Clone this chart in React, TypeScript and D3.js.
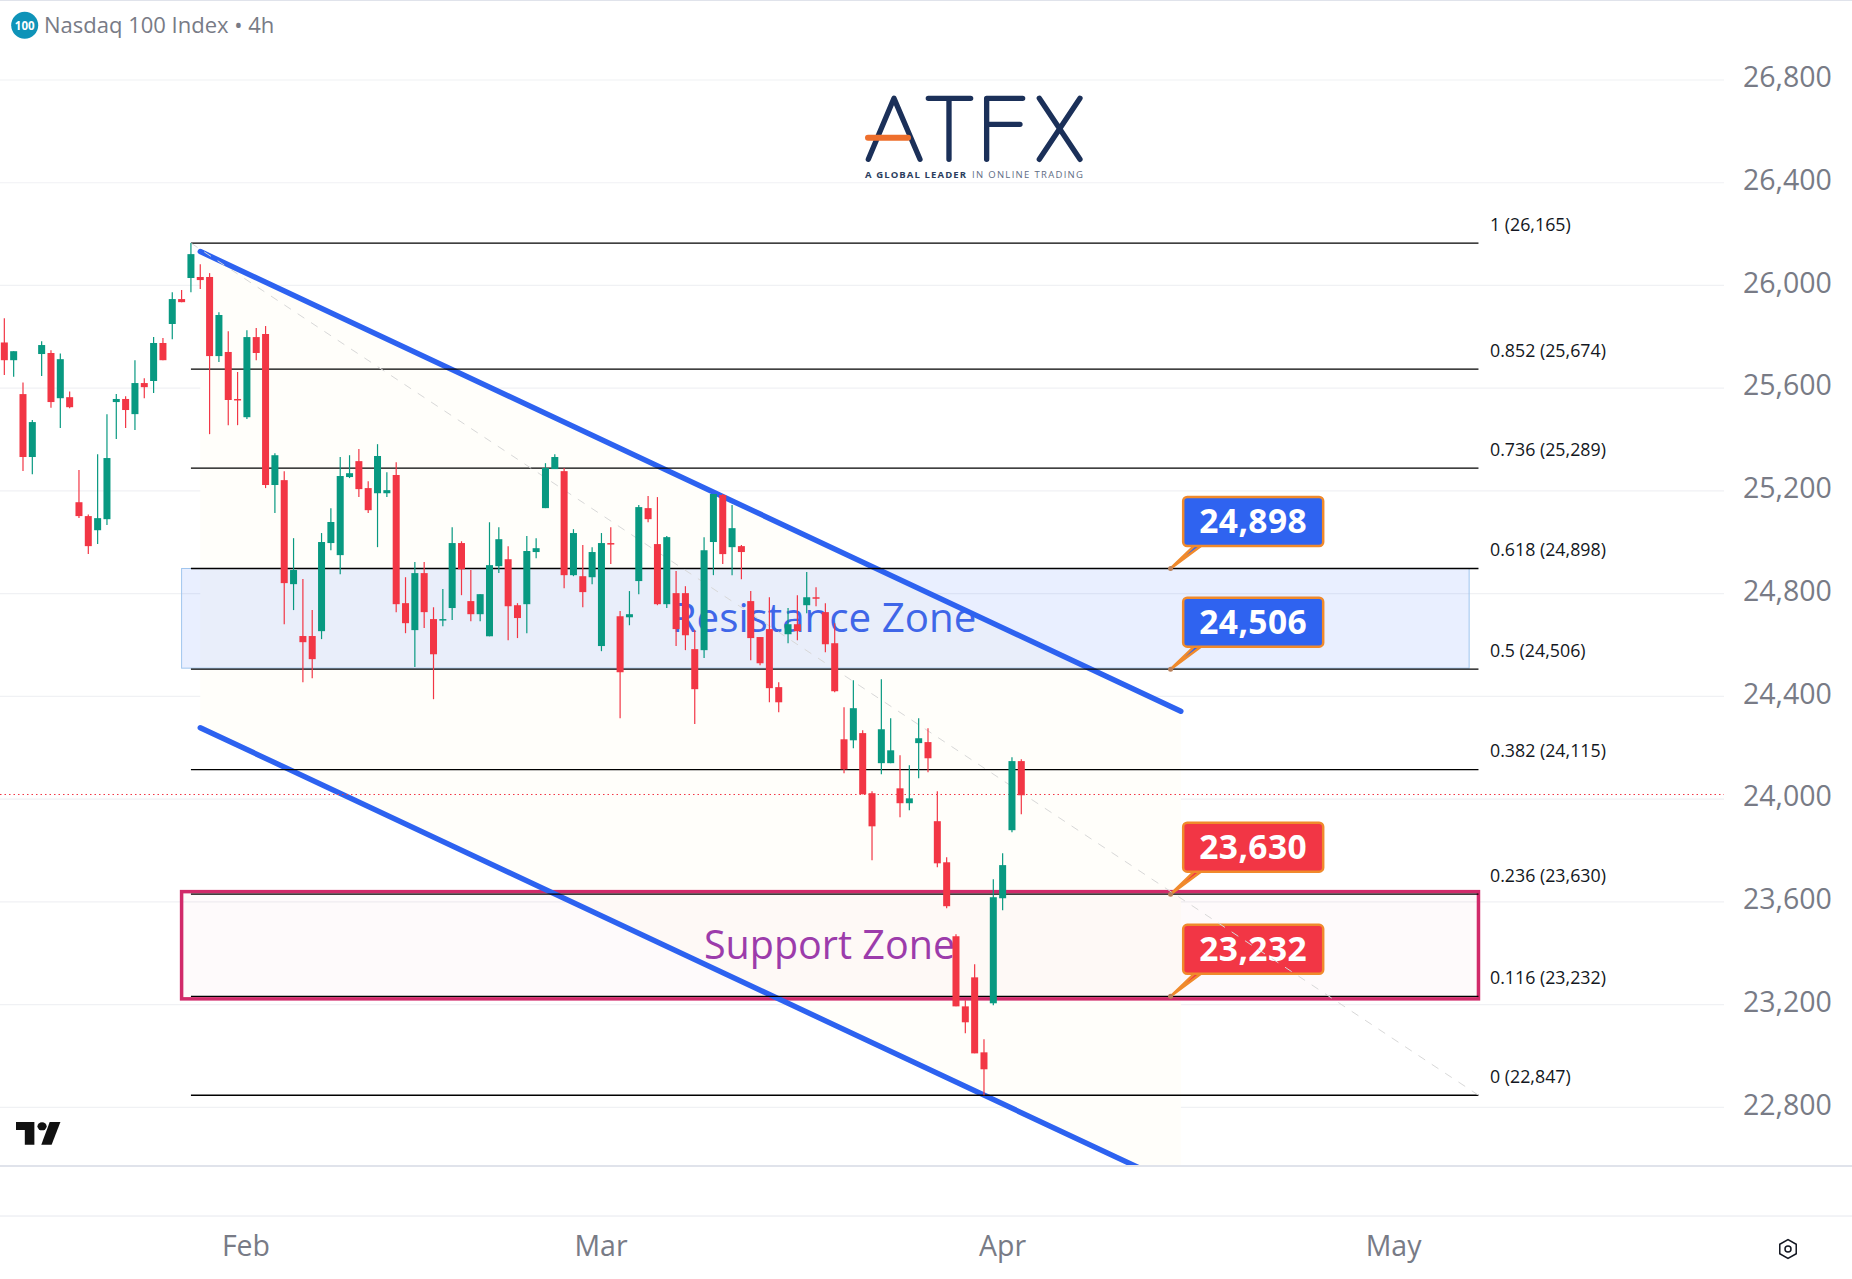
import React, { useRef, useEffect } from 'react';
import * as d3 from 'd3';

// 4h candles, left to right
const opens = [25778,25709,25577,25332,25733,25737,25561,25565,25156,25102,25047,25090,25546,25558,25499,25620,25628,25776,25850,25947,26029,26033,26033,25725,25741,25558,25487,25799,25811,25223,25242,24837,24635,24635,24654,24997,24950,25254,25316,25211,25191,25191,25262,24763,24658,24880,24701,24697,24744,24997,24771,24720,24634,24907,24934,24755,24759,24962,25133,25285,25277,24872,24868,24864,24596,24997,24712,24708,24849,25133,24993,24759,24802,24802,24584,24580,25001,25184,24981,24985,24771,24631,24662,24436,24642,24681,24755,24786,24728,24607,24233,24229,24257,24023,24140,24140,24042,23984,24218,24222,23914,23754,23466,23193,23306,23014,23205,23614,23879,24148];
const highs = [25872,25744,25622,25476,25783,25748,25735,25587,25281,25108,25343,25499,25577,25569,25709,25639,25799,25795,25974,25982,26165,26083,26048,25896,25822,25663,25826,25834,25842,25347,25277,25016,24857,24736,25036,25133,25332,25339,25363,25238,25382,25273,25312,24864,24923,24923,24747,24818,25059,25004,24892,24798,25078,25059,24985,24763,25024,25016,25308,25343,25289,25051,24989,24981,25036,25059,24732,24810,25145,25180,25176,25024,24888,24829,24658,25020,25188,25188,25145,24989,24810,24631,24786,24455,24744,24794,24884,24825,24763,24685,24358,24463,24268,24031,24467,24315,24171,24132,24315,24276,24031,23774,23474,23217,23357,23065,23688,23789,24163,24155];
const lows = [25651,25645,25278,25265,25647,25524,25445,25522,25095,24954,24993,25067,25402,25445,25437,25561,25581,25709,25791,25935,25974,25986,25421,25702,25456,25456,25480,25709,25211,25114,24681,24736,24455,24471,24623,24969,24876,25250,25176,25114,24981,25176,24728,24646,24514,24666,24389,24673,24697,24794,24693,24693,24634,24880,24619,24627,24646,24938,25133,25285,24821,24868,24747,24837,24576,24915,24315,24677,24798,25078,24755,24744,24596,24580,24292,24549,24872,24915,24872,24856,24541,24521,24377,24338,24607,24619,24724,24751,24572,24416,24101,24198,24019,23762,24097,24140,23929,23957,24081,24105,23735,23575,23193,23088,23010,22847,23197,23567,23871,23941];
const closes = [25709,25744,25332,25468,25768,25546,25713,25526,25102,24985,25094,25328,25558,25515,25620,25604,25776,25709,25947,25935,26122,26021,25725,25885,25554,25554,25799,25737,25223,25339,24841,24892,24611,24545,25001,25079,25258,25269,25207,25125,25336,25203,24759,24685,24880,24728,24564,24701,24997,24895,24720,24798,24911,25012,24751,24705,24966,24977,25289,25332,24872,25036,24806,24962,24997,24993,24494,24720,25137,25090,24759,25020,24662,24638,24428,24969,25188,24954,25055,24962,24627,24529,24432,24377,24681,24654,24786,24782,24603,24420,24116,24354,24019,23894,24272,24190,23984,24003,24237,24159,23750,23583,23193,23131,23010,22948,23618,23743,24148,24015];

const priceTicks = [26800, 26400, 26000, 25600, 25200, 24800, 24400, 24000, 23600, 23200, 22800];
const monthLabels = ['Feb', 'Mar', 'Apr', 'May'];
const monthIndex = [25.9, 63.95, 107, 148.9];

const fibRatios = ['1', '0.852', '0.736', '0.618', '0.5', '0.382', '0.236', '0.116', '0'];
const fibPrices = [26165, 25674, 25289, 24898, 24506, 24115, 23630, 23232, 22847];

const calloutPrices = [24898, 24506, 23630, 23232];
const lastPrice = 24018;

const channelTop: [number, number][] = [[21, 26132], [126.1, 24342]];
const channelBottom: [number, number][] = [[21, 24278], [126.1, 22488]];

const UP = '#089981';
const DOWN = '#f23645';
const GREY = '#787b86';
const FONT = '"Open Sans", sans-serif';

const W = 1852;
const H = 1279;
const PANE_RIGHT = 1724;
const PANE_BOTTOM = 1165;

const App: React.FC = () => {
  const svgRef = useRef<SVGSVGElement>(null);

  useEffect(() => {
    if (!svgRef.current) return;
    document.body.style.margin = '0';
    const svg = d3.select(svgRef.current);
    svg.selectAll('*').remove();

    const x = d3.scaleLinear().domain([0, 109]).range([4.33, 1021.3]);
    const y = d3.scaleLinear().domain([22800, 26800]).range([1107.3, 80]);

    svg.append('rect').attr('width', W).attr('height', H).attr('fill', '#fff');

    svg.append('defs').append('clipPath').attr('id', 'pane')
      .append('rect').attr('width', PANE_RIGHT).attr('height', PANE_BOTTOM);

    // frame lines
    svg.append('line').attr('x1', 0).attr('x2', W).attr('y1', 0.5).attr('y2', 0.5).attr('stroke', '#e0e3eb');
    svg.append('line').attr('x1', 0).attr('x2', W).attr('y1', 1166).attr('y2', 1166).attr('stroke', '#e0e3eb').attr('stroke-width', 2);
    svg.append('line').attr('x1', 0).attr('x2', W).attr('y1', 1216).attr('y2', 1216).attr('stroke', '#e6e8ee').attr('stroke-width', 1);

    // grid + price axis
    svg.append('g').selectAll('line').data(priceTicks).enter().append('line')
      .attr('x1', 0).attr('x2', PANE_RIGHT)
      .attr('y1', d => y(d)).attr('y2', d => y(d))
      .attr('stroke', '#f0f1f4').attr('stroke-width', 1.2);

    svg.append('g').selectAll('text').data(priceTicks).enter().append('text')
      .attr('x', 1743).attr('y', d => y(d) + 7.3)
      .attr('font-family', FONT).attr('font-size', 28.5).attr('fill', GREY)
      .text(d => d3.format(',')(d));

    // time axis
    svg.append('g').selectAll('text').data(monthLabels).enter().append('text')
      .attr('x', (_, i) => x(monthIndex[i])).attr('y', 1255.5)
      .attr('text-anchor', 'middle')
      .attr('font-family', FONT).attr('font-size', 28.5).attr('fill', GREY)
      .text(d => d);

    const pane = svg.append('g').attr('clip-path', 'url(#pane)');

    // channel fill
    pane.append('polygon')
      .attr('points', [...channelTop, ...channelBottom.slice().reverse()]
        .map(p => `${x(p[0])},${y(p[1])}`).join(' '))
      .attr('fill', '#fffefa');

    // resistance zone
    pane.append('rect')
      .attr('x', x(19)).attr('width', x(157) - x(19))
      .attr('y', y(24898)).attr('height', y(24506) - y(24898) - 1)
      .attr('fill', '#2962ff').attr('fill-opacity', 0.1)
      .attr('stroke', '#9fc5ee').attr('stroke-width', 1);

    // support zone
    pane.append('rect')
      .attr('x', x(19)).attr('width', x(158) - x(19))
      .attr('y', y(23630) - 2.5).attr('height', y(23232) - y(23630) + 5)
      .attr('fill', '#e91e63').attr('fill-opacity', 0.025)
      .attr('stroke', '#d12a6a').attr('stroke-width', 3.5);

    pane.append('text').attr('x', 824).attr('y', 632).attr('text-anchor', 'middle')
      .attr('font-family', FONT).attr('font-size', 40.3).attr('fill', '#3f66e8')
      .text('Resistance Zone');
    pane.append('text').attr('x', 829.5).attr('y', 959).attr('text-anchor', 'middle')
      .attr('font-family', FONT).attr('font-size', 39.5).attr('fill', '#9c3cab')
      .text('Support Zone');

    // fib levels
    svg.append('g').selectAll('line').data(fibPrices).enter().append('line')
      .attr('x1', x(20)).attr('x2', x(158))
      .attr('y1', d => y(d)).attr('y2', d => y(d))
      .attr('stroke', '#000').attr('stroke-width', 1.3);

    svg.append('g').selectAll('text').data(fibPrices).enter().append('text')
      .attr('x', 1490).attr('y', d => y(d) - 12.5)
      .attr('font-family', FONT).attr('font-size', 17.8).attr('fill', '#131722')
      .text((d, i) => `${fibRatios[i]} (${d3.format(',')(d)})`);

    // callouts
    calloutPrices.forEach(p => {
      const ax = x(125);
      const ay = y(p);
      const color = p > 24000 ? '#2f63f0' : '#f23645';
      const g = svg.append('g');
      g.append('path')
        .attr('d', `M${ax},${ay}L${ax + 24},${ay - 23}L${ax + 31},${ay - 23}Z`)
        .attr('fill', color).attr('stroke', '#f08a2c').attr('stroke-width', 2.5).attr('stroke-linejoin', 'round');
      g.append('circle').attr('cx', ax).attr('cy', ay).attr('r', 2.5).attr('fill', '#b9805a');
      g.append('rect')
        .attr('x', ax + 12.6).attr('y', ay - 71.5).attr('width', 140).attr('height', 49).attr('rx', 4)
        .attr('fill', color).attr('stroke', '#f08a2c').attr('stroke-width', 2.5);
      g.append('text')
        .attr('x', ax + 82.6).attr('y', ay - 35.5).attr('text-anchor', 'middle')
        .attr('font-family', FONT).attr('font-weight', 700).attr('font-size', 33.5).attr('letter-spacing', 0.4).attr('fill', '#fff')
        .text(d3.format(',')(p));
    });

    // fib trend line
    svg.append('line')
      .attr('x1', x(20)).attr('y1', y(26165)).attr('x2', x(158)).attr('y2', y(22847))
      .attr('stroke', '#d8d8d8').attr('stroke-width', 1).attr('stroke-dasharray', '8 8');

    // channel lines
    [channelTop, channelBottom].forEach(line => {
      pane.append('line')
        .attr('x1', x(line[0][0])).attr('y1', y(line[0][1]))
        .attr('x2', x(line[1][0])).attr('y2', y(line[1][1]))
        .attr('stroke', '#2d62f0').attr('stroke-width', 5.4).attr('stroke-linecap', 'round');
    });

    // last price line
    svg.append('line')
      .attr('x1', 0).attr('x2', PANE_RIGHT).attr('y1', y(lastPrice)).attr('y2', y(lastPrice))
      .attr('stroke', DOWN).attr('stroke-width', 1).attr('stroke-dasharray', '1.5 3');

    // candles
    const candles = svg.append('g').selectAll('g').data(d3.range(opens.length)).enter().append('g');
    const colorOf = (i: number) => (closes[i] >= opens[i] ? UP : DOWN);
    candles.append('line')
      .attr('x1', i => x(i)).attr('x2', i => x(i))
      .attr('y1', i => y(highs[i])).attr('y2', i => y(lows[i]))
      .attr('stroke', colorOf).attr('stroke-width', 1.2);
    candles.append('rect')
      .attr('x', i => x(i) - 3.5).attr('width', 7)
      .attr('y', i => y(Math.max(opens[i], closes[i])))
      .attr('height', i => Math.max(1.5, Math.abs(y(opens[i]) - y(closes[i]))))
      .attr('fill', colorOf);

    // symbol header
    svg.append('circle').attr('cx', 24.7).attr('cy', 25.3).attr('r', 13.5).attr('fill', '#0e93b8');
    svg.append('text').attr('x', 24.7).attr('y', 29.5).attr('text-anchor', 'middle')
      .attr('font-family', FONT).attr('font-weight', 700).attr('font-size', 11.5).attr('fill', '#fff').text('100');
    svg.append('text').attr('x', 44).attr('y', 33)
      .attr('font-family', FONT).attr('font-size', 22).attr('fill', GREY).text('Nasdaq 100 Index • 4h');

    // ATFX watermark
    const logo = svg.append('g').attr('transform', 'translate(840,70) scale(0.3333)')
      .attr('fill', 'none').attr('stroke', '#1b3059').attr('stroke-width', 16)
      .attr('stroke-linecap', 'round').attr('stroke-linejoin', 'round');
    logo.append('path').attr('d', 'M85 268L162 85L240 268');
    logo.append('path').attr('d', 'M265 85H392M327 85V268');
    logo.append('path').attr('d', 'M440 268V85H548M440 163H540');
    logo.append('path').attr('d', 'M598 85L720 268M720 85L598 268');
    logo.append('path').attr('d', 'M84 203H204').attr('stroke', '#ee6f2d').attr('stroke-width', 18);
    svg.append('text').attr('x', 865).attr('y', 178).attr('textLength', 101).attr('lengthAdjust', 'spacing')
      .attr('font-family', FONT).attr('font-weight', 700).attr('font-size', 9.5).attr('fill', '#2b3d5e')
      .text('A GLOBAL LEADER');
    svg.append('text').attr('x', 972).attr('y', 178).attr('textLength', 111).attr('lengthAdjust', 'spacing')
      .attr('font-family', FONT).attr('font-size', 9.5).attr('fill', '#5f6d84')
      .text('IN ONLINE TRADING');

    // TradingView mark
    const tv = svg.append('g').attr('transform', 'translate(16,1121) scale(0.383,0.333)').attr('fill', '#111');
    tv.append('path').attr('d', 'M0 3H48V71H23V27H0Z');
    tv.append('circle').attr('cx', 68).attr('cy', 16).attr('r', 12);
    tv.append('path').attr('d', 'M88 3H116L93 71H66Z');

    // settings glyph
    const gear = svg.append('g').attr('transform', 'translate(1788,1249)').attr('fill', 'none')
      .attr('stroke', '#131722').attr('stroke-width', 1.5);
    gear.append('path').attr('d', d3.range(6).map(k => {
      const a = Math.PI / 6 + (k * Math.PI) / 3;
      return `${k ? 'L' : 'M'}${9.5 * Math.cos(a)},${9.5 * Math.sin(a)}`;
    }).join('') + 'Z');
    gear.append('circle').attr('r', 3);
  }, []);

  return <svg ref={svgRef} width={W} height={H} style={{ position: 'absolute', left: 0, top: 0, display: 'block' }} />;
};

export default App;
